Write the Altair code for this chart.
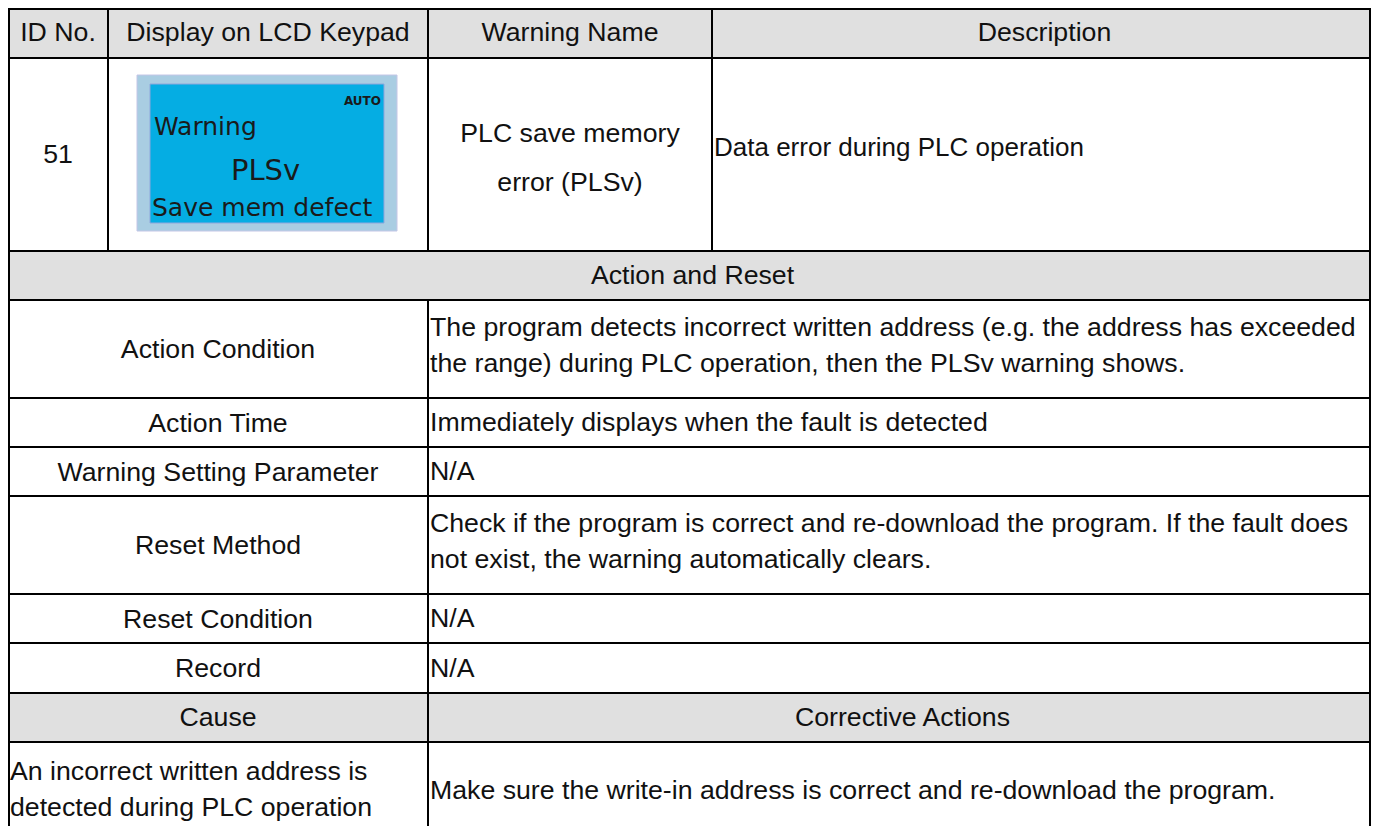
import altair as alt
import pandas as pd

# ---------------- content ----------------
header = ["ID No.", "Display on LCD Keypad", "Warning Name", "Description"]
warning_id = ["51"]
warning_name = ["PLC save memory", "error (PLSv)"]
description = ["Data error during PLC operation"]
lcd_auto = "AUTO"
lcd_title = "Warning"
lcd_code = "PLSv"
lcd_message = "Save mem defect"
section_title = ["Action and Reset"]
labels = ["Action Condition", "Action Time", "Warning Setting Parameter",
          "Reset Method", "Reset Condition", "Record"]
values = [
    ["The program detects incorrect written address (e.g. the address has exceeded",
     "the range) during PLC operation, then the PLSv warning shows."],
    ["Immediately displays when the fault is detected"],
    ["N/A"],
    ["Check if the program is correct and re-download the program. If the fault does",
     "not exist, the warning automatically clears."],
    ["N/A"],
    ["N/A"],
]
cause_header = ["Cause", "Corrective Actions"]
cause = ["An incorrect written address is", "detected during PLC operation"]
corrective = ["Make sure the write-in address is correct and re-download the program."]

# ---------------- layout (table grid, in page pixels) ----------------
COL = [7, 106, 426, 710, 1368]        # drawn cell edges
COL_TEXT = [6, 106, 426, 710, 1375]   # edges used to place text
ROW = [8, 57, 250, 299, 397, 446, 495, 593, 642, 692, 741, 839]
GRAY = "#e0e0e0"
WHITE = "#ffffff"
FONT = "Liberation Sans, Arial, Helvetica, sans-serif"
LCD_FONT = "DejaVu Sans, Verdana, sans-serif"
PLOT_W, PLOT_H = 1363, 818
SIZE = 26.7

cells = []
texts = []


def add(c0, c1, r, lines, align, fill=WHITE, gap=36, dy=0.8, size=SIZE):
    x0, x1 = COL[c0], COL[c1]
    tx0, tx1 = COL_TEXT[c0], COL_TEXT[c1]
    y0, y1 = ROW[r], ROW[r + 1]
    cells.append(dict(x0=x0, x1=x1, y0=y0, y1=y1, fill=fill))
    n = len(lines)
    cy = (y0 + y1) / 2 + dy
    for i, t in enumerate(lines):
        texts.append(dict(
            x=(tx0 + tx1) / 2 if align == "center" else tx0 + 2,
            y=cy + (i - (n - 1) / 2) * gap,
            text=t, al=align, size=size))


# header row
for i, h in enumerate(header):
    add(i, i + 1, 0, [h], "center", GRAY, dy=-1)
# warning row
add(0, 1, 1, warning_id, "center", dy=0.5)
add(1, 2, 1, [], "center")
add(2, 3, 1, warning_name, "center", gap=49, dy=4.3)
add(3, 4, 1, description, "left", dy=-7, size=26)
# section
add(0, 4, 2, section_title, "center", GRAY)
# action / reset rows
for k, (lab, val) in enumerate(zip(labels, values)):
    r = 3 + k
    add(0, 2, r, [lab], "center", dy=1.0)
    add(2, 4, r, val, "left", dy=(-2.7 if len(val) > 1 else 0.8))
# cause header
add(0, 2, 9, [cause_header[0]], "center", GRAY)
add(2, 4, 9, [cause_header[1]], "center", GRAY)
# cause row
add(0, 2, 10, cause, "left", gap=36, dy=-1.2)
add(2, 4, 10, corrective, "left", dy=0.3)

cells_df = pd.DataFrame(cells)
texts_df = pd.DataFrame(texts)

# LCD picture boxes
lcd_boxes = pd.DataFrame([
    dict(x0=135, x1=395, y0=74, y1=230, fill="#a9cde2", stroke="#c4c6e6"),
    dict(x0=148, x1=382, y0=83, y1=222, fill="#05ade3", stroke="#8fa6dc"),
])
lcd_text = [
    dict(x=152, y=125.6, text=lcd_title, al="left", size=25, weight="normal"),
    dict(x=263.5, y=170, text=lcd_code, al="center", size=29, weight="normal"),
    dict(x=150, y=206.6, text=lcd_message, al="left", size=25, weight="normal"),
    dict(x=379, y=99.7, text=lcd_auto, al="right", size=12, weight="bold"),
]

XS = alt.Scale(domain=[6, 6 + PLOT_W], nice=False, zero=False)
YS = alt.Scale(domain=[7, 7 + PLOT_H], nice=False, zero=False, reverse=True)


def rect_layer(df, stroke_field=None, width=2):
    enc = dict(
        x=alt.X("x0:Q", scale=XS, axis=None),
        x2="x1:Q",
        y=alt.Y("y0:Q", scale=YS, axis=None),
        y2="y1:Q",
        fill=alt.Fill("fill:N", scale=None, legend=None),
    )
    if stroke_field:
        enc["stroke"] = alt.Stroke(stroke_field + ":N", scale=None, legend=None)
        return alt.Chart(df).mark_rect(strokeWidth=width).encode(**enc)
    return alt.Chart(df).mark_rect(stroke="#000000", strokeWidth=width).encode(**enc)


grid = rect_layer(cells_df)
lcd = rect_layer(lcd_boxes, "stroke", width=1)


def text_layer(df, align, font, weight="normal", color="#111111"):
    return alt.Chart(df).mark_text(
        align=align, baseline="middle", font=font,
        fontWeight=weight, color=color,
    ).encode(
        x=alt.X("x:Q", scale=XS, axis=None),
        y=alt.Y("y:Q", scale=YS, axis=None),
        text="text:N",
        size=alt.Size("size:Q", scale=None, legend=None),
    )


t_center = text_layer(texts_df[texts_df["al"] == "center"], "center", FONT)
t_left = text_layer(texts_df[texts_df["al"] == "left"], "left", FONT)

lcd_layers = []
for row in lcd_text:
    lcd_layers.append(text_layer(pd.DataFrame([row]), row["al"], LCD_FONT,
                                 row["weight"], "#1a1a1a"))

chart = alt.layer(grid, lcd, t_center, t_left, *lcd_layers).properties(
    width=PLOT_W, height=PLOT_H, padding=0,
    autosize=alt.AutoSizeParams(type="none"),
    background="#ffffff",
).configure_view(stroke=None)

chart.save("out.html", embed_options={"renderer": "svg", "actions": False})
